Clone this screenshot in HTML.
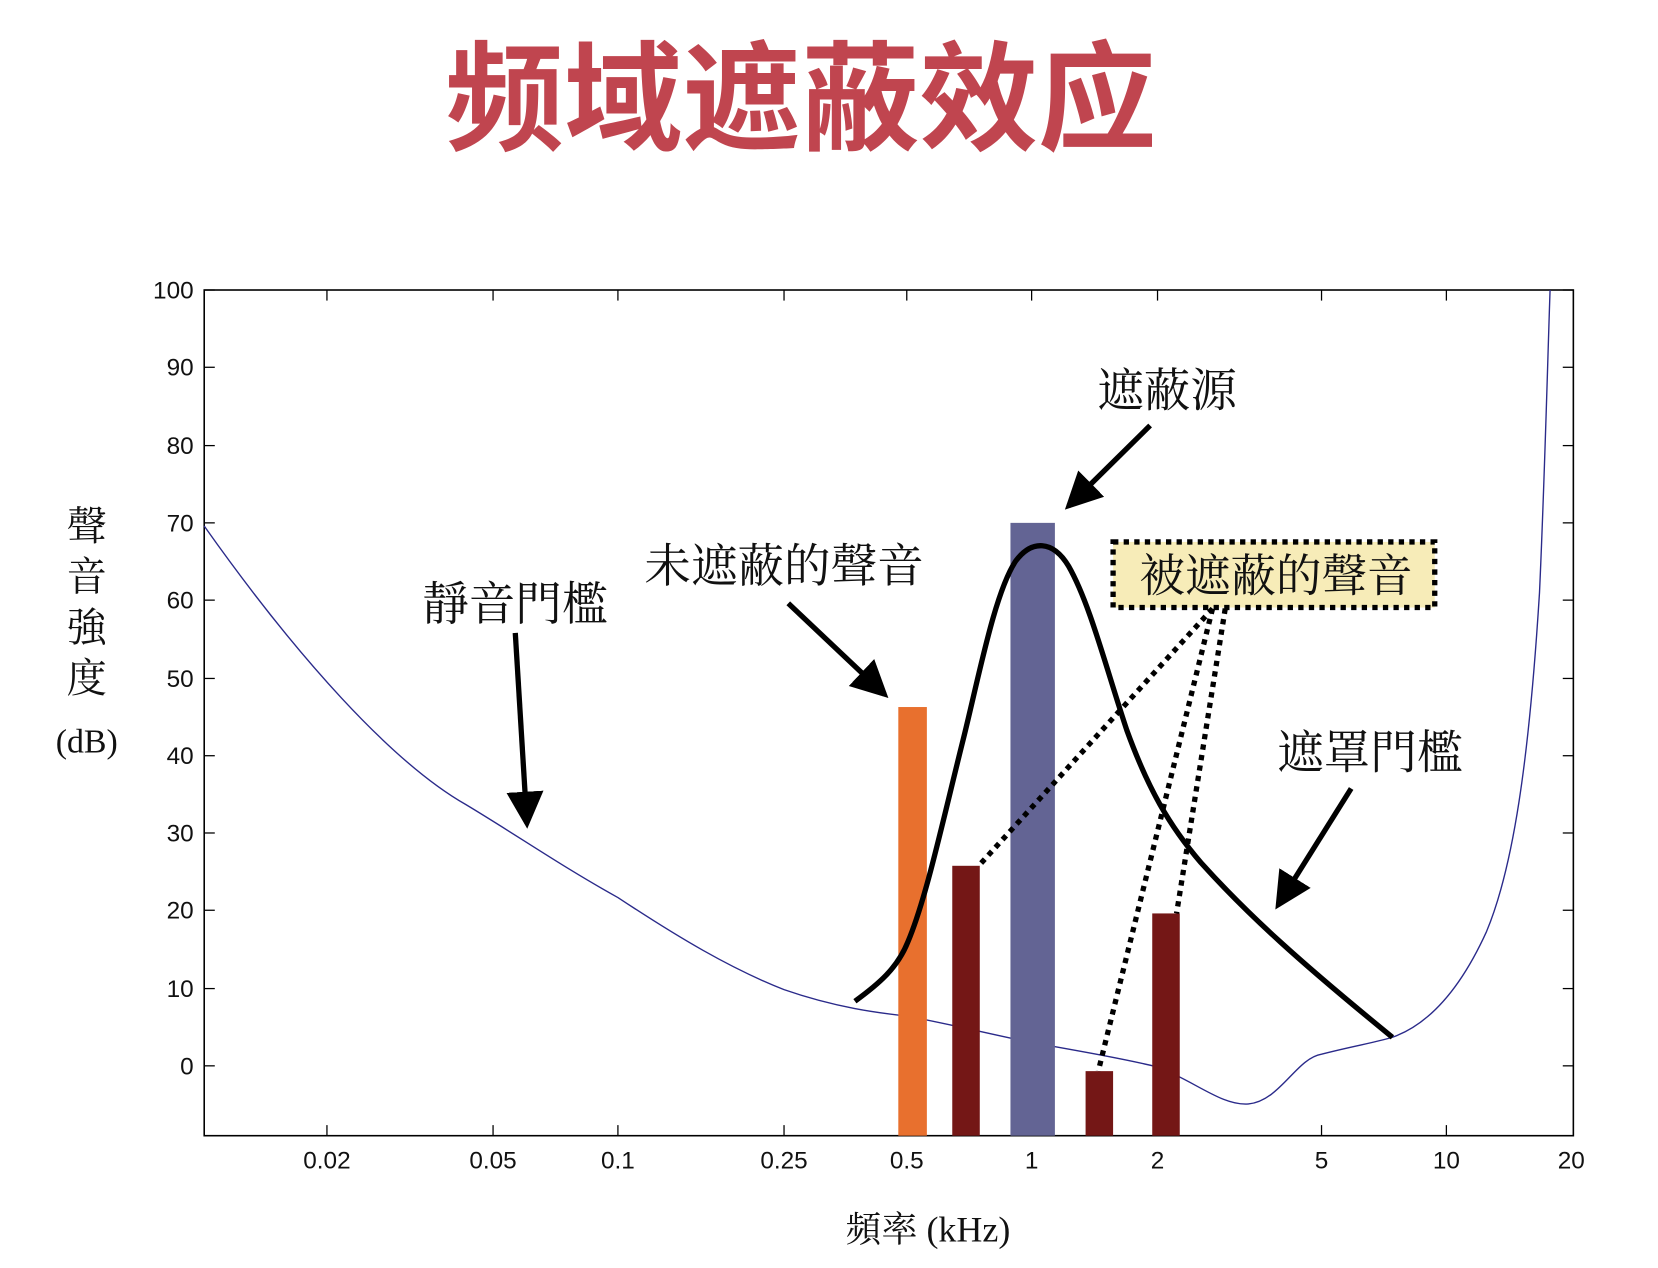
<!DOCTYPE html>
<html><head><meta charset="utf-8"><style>
html,body{margin:0;padding:0;background:#fff;}
svg{display:block;}
.t{font-family:"Liberation Sans",sans-serif;font-size:23px;fill:#111;}
.c{font-family:"Liberation Serif","Noto Serif CJK SC","Noto Sans CJK TC",serif;fill:#111;}
</style></head><body>
<svg width="1658" height="1268" viewBox="0 0 1567 1198" preserveAspectRatio="none" xmlns="http://www.w3.org/2000/svg">
<defs><marker id="ah" markerWidth="8" markerHeight="8" refX="6" refY="4" orient="auto" markerUnits="strokeWidth">
<path d="M0,0.5 L7,4 L0,7.5 Z" fill="#000"/></marker></defs>
<text x="757" y="133" text-anchor="middle" font-family="'Noto Sans CJK SC',sans-serif" font-weight="700" font-size="112" fill="#c0454f">频域遮蔽效应</text>
<rect x="193" y="274" width="1294" height="799" fill="none" stroke="#000" stroke-width="1.5"/>
<g stroke="#000" stroke-width="1.2">
<line x1="193" y1="274" x2="203" y2="274"/><line x1="1487" y1="274" x2="1477" y2="274"/>
<line x1="193" y1="347" x2="203" y2="347"/><line x1="1487" y1="347" x2="1477" y2="347"/>
<line x1="193" y1="421" x2="203" y2="421"/><line x1="1487" y1="421" x2="1477" y2="421"/>
<line x1="193" y1="494" x2="203" y2="494"/><line x1="1487" y1="494" x2="1477" y2="494"/>
<line x1="193" y1="567" x2="203" y2="567"/><line x1="1487" y1="567" x2="1477" y2="567"/>
<line x1="193" y1="641" x2="203" y2="641"/><line x1="1487" y1="641" x2="1477" y2="641"/>
<line x1="193" y1="714" x2="203" y2="714"/><line x1="1487" y1="714" x2="1477" y2="714"/>
<line x1="193" y1="787" x2="203" y2="787"/><line x1="1487" y1="787" x2="1477" y2="787"/>
<line x1="193" y1="860" x2="203" y2="860"/><line x1="1487" y1="860" x2="1477" y2="860"/>
<line x1="193" y1="934" x2="203" y2="934"/><line x1="1487" y1="934" x2="1477" y2="934"/>
<line x1="193" y1="1007" x2="203" y2="1007"/><line x1="1487" y1="1007" x2="1477" y2="1007"/>
<line x1="309" y1="1073" x2="309" y2="1063"/><line x1="309" y1="274" x2="309" y2="284"/>
<line x1="466" y1="1073" x2="466" y2="1063"/><line x1="466" y1="274" x2="466" y2="284"/>
<line x1="584" y1="1073" x2="584" y2="1063"/><line x1="584" y1="274" x2="584" y2="284"/>
<line x1="741" y1="1073" x2="741" y2="1063"/><line x1="741" y1="274" x2="741" y2="284"/>
<line x1="857" y1="1073" x2="857" y2="1063"/><line x1="857" y1="274" x2="857" y2="284"/>
<line x1="975" y1="1073" x2="975" y2="1063"/><line x1="975" y1="274" x2="975" y2="284"/>
<line x1="1094" y1="1073" x2="1094" y2="1063"/><line x1="1094" y1="274" x2="1094" y2="284"/>
<line x1="1249" y1="1073" x2="1249" y2="1063"/><line x1="1249" y1="274" x2="1249" y2="284"/>
<line x1="1367" y1="1073" x2="1367" y2="1063"/><line x1="1367" y1="274" x2="1367" y2="284"/>
</g>
<g class="t" text-anchor="end">
<text x="183" y="282">100</text><text x="183" y="355">90</text><text x="183" y="429">80</text>
<text x="183" y="502">70</text><text x="183" y="575">60</text><text x="183" y="649">50</text>
<text x="183" y="722">40</text><text x="183" y="795">30</text><text x="183" y="868">20</text>
<text x="183" y="942">10</text><text x="183" y="1015">0</text>
</g>
<g class="t" text-anchor="middle">
<text x="309" y="1104">0.02</text><text x="466" y="1104">0.05</text><text x="584" y="1104">0.1</text>
<text x="741" y="1104">0.25</text><text x="857" y="1104">0.5</text><text x="975" y="1104">1</text>
<text x="1094" y="1104">2</text><text x="1249" y="1104">5</text><text x="1367" y="1104">10</text>
<text x="1485" y="1104">20</text>
</g>
<g class="c" font-size="38" text-anchor="middle">
<text x="82" y="510">聲</text><text x="82" y="558">音</text><text x="82" y="606">強</text><text x="82" y="654">度</text>
<text x="82" y="711" font-size="32">(dB)</text>
<text x="877" y="1173" font-size="34">頻率 (kHz)</text>
</g>
<path d="M193,497 C280,620 370,720 440,760 C490,790 530,818 584,848 C640,885 690,915 741,935 C790,952 830,957 857,960 C900,968 940,978 975,985 C1020,993 1060,1000 1094,1008 C1130,1022 1155,1045 1180,1043 C1210,1040 1225,1000 1249,996 C1280,988 1300,985 1316,980 C1350,968 1380,935 1405,880 C1430,820 1445,720 1455,560 C1460,450 1463,330 1465,274" fill="none" stroke="#2a2a8a" stroke-width="1.3"/>
<rect x="849" y="668" width="27" height="405" fill="#e8702e"/>
<rect x="900" y="818" width="26" height="255" fill="#741716"/>
<rect x="955" y="494" width="42" height="579" fill="#636494"/>
<rect x="1026" y="1012" width="26" height="61" fill="#741716"/>
<rect x="1089" y="863" width="26" height="210" fill="#741716"/>
<path d="M808,946 C830,930 848,915 858,890 C875,850 890,780 910,700 C925,640 940,560 960,530 C975,510 995,510 1010,535 C1030,570 1045,630 1065,690 C1085,745 1105,780 1135,815 C1180,865 1230,910 1316,980" fill="none" stroke="#000" stroke-width="5"/>
<rect x="1052" y="512" width="304" height="62" fill="#f7ecb8" stroke="#000" stroke-width="5" stroke-dasharray="5,5"/>
<text x="1206" y="559" class="c" font-size="43" text-anchor="middle">被遮蔽的聲音</text>
<g stroke="#000" stroke-width="5" stroke-dasharray="5,5" fill="none">
<line x1="1146" y1="575" x2="925" y2="818"/>
<line x1="1146" y1="575" x2="1038" y2="1012"/>
<line x1="1158" y1="575" x2="1112" y2="863"/>
</g>
<g class="c" font-size="44" text-anchor="middle">
<text x="487" y="586">靜音門檻</text>
<text x="741" y="550">未遮蔽的聲音</text>
<text x="1103" y="384">遮蔽源</text>
<text x="1295" y="726">遮罩門檻</text>
</g>
<g stroke="#000" stroke-width="5" fill="none" marker-end="url(#ah)">
<line x1="487" y1="598" x2="498" y2="778"/>
<line x1="745" y1="570" x2="836" y2="656"/>
<line x1="1087" y1="402" x2="1010" y2="478"/>
<line x1="1277" y1="745" x2="1208" y2="855"/>
</g>
</svg>
</body></html>
